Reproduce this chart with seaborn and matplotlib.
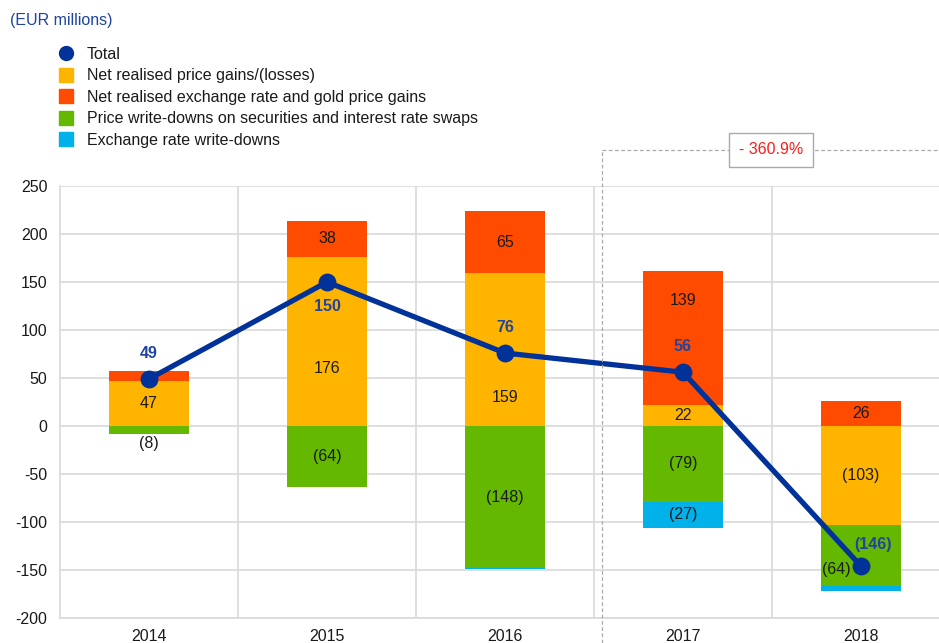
import matplotlib
matplotlib.use("Agg")
import matplotlib.pyplot as plt
import seaborn as sns
import numpy as np
from matplotlib.lines import Line2D

# ---------------- data ----------------
years = ["2014", "2015", "2016", "2017", "2018"]
price_gains = [47, 176, 159, 22, -103]          # Net realised price gains/(losses)
fx_gold_gains = [10, 38, 65, 139, 26]           # Net realised exchange rate and gold price gains
price_writedowns = [-8, -64, -148, -79, -64]    # Price write-downs on securities and IRS
fx_writedowns = [0, 0, -0.8, -27, -5]           # Exchange rate write-downs
total = [49, 150, 76, 56, -146]

series_names = ["Net realised price gains/(losses)",
                "Net realised exchange rate and gold price gains",
                "Price write-downs on securities and interest rate swaps",
                "Exchange rate write-downs"]
change_label = "- 360.9%"

# label nudges (data units) so that labels avoid the total line
price_label_shift = [0, -28, -49.5, 0, 0]
fx_label_shift = [0, 0, 0, 39.5, 0]

C_YEL = "#FFB400"
C_RED = "#FF4B00"
C_GRN = "#65B800"
C_CYN = "#00B1EA"
C_NAVY = "#003299"
C_GRID = "#D9D9D9"
FS = 11.5

sns.set_style("white")
plt.rcParams["font.family"] = ["Liberation Sans", "DejaVu Sans"]
plt.rcParams["axes.unicode_minus"] = False

W, H = 939, 643
fig = plt.figure(figsize=(W / 100, H / 100), dpi=100)
ax = fig.add_axes([60 / W, 25 / H, (W - 60) / W, 432 / H])

# ---------------- stacked bars (drawn outermost first) ----------------
pg = np.array(price_gains, float)
fx = np.array(fx_gold_gains, float)
pw = np.array(price_writedowns, float)
xw = np.array(fx_writedowns, float)
pos_base = np.clip(pg, 0, None)
neg_base = np.clip(pg, None, 0)

layers = [
    (pos_base + fx, C_RED),
    (neg_base + pw + xw, C_CYN),
    (neg_base + pw, C_GRN),
    (pg, C_YEL),
]
for vals, col in layers:
    sns.barplot(x=years, y=vals, order=years, color=col, width=0.45,
                saturation=1, errorbar=None, linewidth=0, ax=ax, zorder=2)

# ---------------- total line ----------------
sns.pointplot(x=years, y=total, order=years, color=C_NAVY, markers="o",
              markersize=10, linewidth=3.8, errorbar=None, ax=ax)
for ln in ax.lines:
    ln.set_zorder(10)

# ---------------- segment labels ----------------
def fmt(v):
    v = int(round(v))
    return f"({abs(v)})" if v < 0 else f"{v}"

txt_kw = dict(ha="center", va="center", fontsize=FS, color="#1a1a1a", zorder=12)
for i in range(len(years)):
    ax.text(i, pg[i] / 2 + price_label_shift[i], fmt(pg[i]), **txt_kw)
    if abs(fx[i]) >= 15:
        ax.text(i, pos_base[i] + fx[i] / 2 + fx_label_shift[i], fmt(fx[i]), **txt_kw)
    if abs(pw[i]) < 15:
        ax.text(i, neg_base[i] + pw[i] - 10, fmt(pw[i]), **txt_kw)
    elif i == len(years) - 1:
        ax.text(i - 0.14, total[i] - 3, fmt(pw[i]), **txt_kw)
    else:
        ax.text(i, neg_base[i] + pw[i] / 2, fmt(pw[i]), **txt_kw)
    if abs(xw[i]) >= 15:
        ax.text(i, neg_base[i] + pw[i] + xw[i] / 2, fmt(xw[i]), **txt_kw)

tot_kw = dict(ha="center", va="center", fontsize=FS, color="#1F45A0",
              fontweight="bold", zorder=12)
for i, t in enumerate(total):
    if i == 1:
        ax.text(i, t - 26, fmt(t), **tot_kw)
    elif t < 0:
        ax.text(i + 0.07, t + 23, fmt(t), **tot_kw)
    else:
        ax.text(i, t + 27, fmt(t), **tot_kw)

# ---------------- axes styling ----------------
ax.set_ylim(-200, 250)
ax.set_xlim(-0.5, (W - 149) / 178)
ax.set_yticks(np.arange(-200, 251, 50))
ax.set_xticks(np.arange(0.5, len(years) - 0.5, 1), minor=True)
ax.yaxis.grid(True, color=C_GRID, lw=1.2)
ax.xaxis.grid(True, which="minor", color=C_GRID, lw=1.2)
ax.xaxis.grid(False, which="major")
ax.set_axisbelow(True)
for s in ["top", "right"]:
    ax.spines[s].set_visible(False)
for s in ["left", "bottom"]:
    ax.spines[s].set_color(C_GRID)
    ax.spines[s].set_linewidth(1.2)
ax.tick_params(axis="both", which="both", length=0, labelsize=FS, colors="#1a1a1a")
ax.tick_params(axis="y", pad=9)
ax.tick_params(axis="x", pad=8)
ax.set_xlabel("")
ax.set_ylabel("")

# ---------------- title & legend ----------------
fig.text(10 / W, 1 - 21 / H, "(EUR millions)", color="#1F45A0", fontsize=FS,
         ha="left", va="center")

handles = [Line2D([], [], marker="o", ls="", color=C_NAVY, markersize=10)]
for col in [C_YEL, C_RED, C_GRN, C_CYN]:
    handles.append(Line2D([], [], marker="s", ls="", color=col, markersize=9.5))
leg = fig.legend(handles, ["Total"] + series_names, loc="upper left",
                 bbox_to_anchor=(58 / W, 1 - 47 / H), frameon=False, fontsize=FS,
                 handlelength=1.0, handletextpad=0.8, labelspacing=0.4,
                 borderpad=0, borderaxespad=0)
for t in leg.get_texts():
    t.set_color("#1a1a1a")

# ---------------- dashed comparison box ----------------
xl = 602 / W
yt = 1 - 150 / H
fig.add_artist(Line2D([xl, xl], [0, yt], transform=fig.transFigure,
                      color="#AAAAAA", lw=0.9, ls=(0, (3, 2))))
fig.add_artist(Line2D([xl, 1], [yt, yt], transform=fig.transFigure,
                      color="#AAAAAA", lw=0.9, ls=(0, (3, 2))))
fig.text(771 / W, yt, change_label, color="#FF1A1A", fontsize=FS,
         ha="center", va="center", zorder=20,
         bbox=dict(boxstyle="square,pad=0.62", fc="white", ec="#AAAAAA", lw=1))

fig.savefig("out.png", dpi=100)
